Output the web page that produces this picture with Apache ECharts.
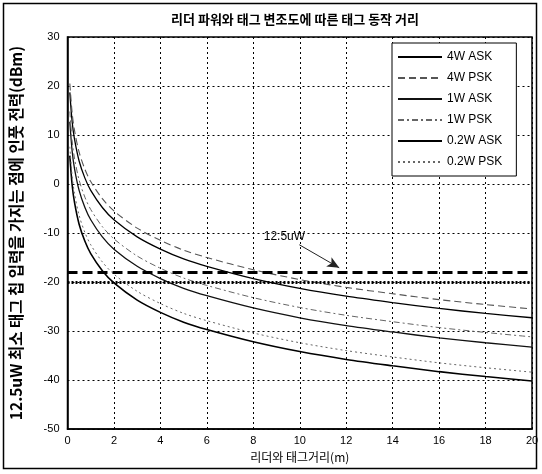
<!DOCTYPE html>
<html><head><meta charset="utf-8">
<script src="https://cdn.jsdelivr.net/npm/echarts@6/dist/echarts.min.js"></script>
<style>html,body{margin:0;padding:0;background:#fff}#c{width:542px;height:474px}</style>
</head><body><div id="c"></div>
<script>
var distances = [0.1, 0.2, 0.3, 0.5, 0.75, 1, 1.5, 2, 3, 4, 5, 6, 8, 10, 12, 14, 16, 18, 20];
var w4Ask  = [18.7, 12.7, 9.2, 4.7, 1.2, -1.3, -4.8, -7.3, -10.8, -13.3, -15.3, -16.8, -19.3, -21.3, -22.9, -24.2, -25.4, -26.4, -27.3];
var w4Psk  = [20.5, 14.5, 11.0, 6.5, 3.0, 0.5, -3.0, -5.5, -9.0, -11.5, -13.5, -15.0, -17.5, -19.5, -21.1, -22.4, -23.6, -24.6, -25.5];
var w1Ask  = [12.7, 6.7, 3.2, -1.3, -4.8, -7.3, -10.8, -13.3, -16.8, -19.3, -21.3, -22.8, -25.3, -27.3, -28.9, -30.2, -31.4, -32.4, -33.3];
var w1Psk  = [14.8, 8.8, 5.3, 0.8, -2.7, -5.2, -8.7, -11.2, -14.7, -17.2, -19.2, -20.7, -23.2, -25.2, -26.8, -28.1, -29.3, -30.3, -31.2];
var w02Ask = [5.8, -0.2, -3.7, -8.2, -11.7, -14.2, -17.7, -20.2, -23.7, -26.2, -28.2, -29.7, -32.2, -34.2, -35.8, -37.1, -38.3, -39.3, -40.2];
var w02Psk = [7.6, 1.6, -1.9, -6.4, -9.9, -12.4, -15.9, -18.4, -21.9, -24.4, -26.4, -27.9, -30.4, -32.4, -34.0, -35.3, -36.5, -37.5, -38.4];
var seriesNames = ['4W ASK', '4W PSK', '1W ASK', '1W PSK', '0.2W ASK', '0.2W PSK'];
var thresholdDashed = -18;
var thresholdDotted = -20;
var arrowFrom = [9.98, -12.4];
var arrowTo = [11.7, -17.1];
var arrowLabelPos = [9.34, -10.8];
var arrowLabel = '12.5uW';

function pairs(ys){ return distances.map(function(d,i){ return [d, ys[i]]; }); }
var styles = [
  {color:'#000', width:1.3, type:'solid'},
  {color:'#555', width:1.1, type:[7,4]},
  {color:'#111', width:1.3, type:'solid'},
  {color:'#666', width:1.0, type:[6,3,2,3]},
  {color:'#000', width:1.6, type:'solid'},
  {color:'#666', width:1.0, type:[2,3]}
];
var allData = [w4Ask, w4Psk, w1Ask, w1Psk, w02Ask, w02Psk];
var series = allData.map(function(arr,i){
  return {
    name: seriesNames[i], type:'line', data: pairs(arr), smooth:0.3, symbol:'none',
    lineStyle: styles[i], itemStyle:{color:styles[i].color}, z: 3
  };
});
series.push({
  type:'line', data:[], silent:true, symbol:'none',
  markPoint:{
    silent:true, symbol:'circle', symbolSize:1, itemStyle:{color:'rgba(0,0,0,0)'},
    data:[{coord:arrowLabelPos, label:{show:true, position:'inside', formatter:arrowLabel, color:'#000', fontSize:12, fontFamily:'Liberation Sans'}}]
  },
  markLine:{
    silent:true, symbol:['none','none'],
    label:{show:false},
    data:[
      [{coord:[0,thresholdDashed], lineStyle:{type:[10,5], width:3, color:'#000'}},{coord:[20,thresholdDashed]}],
      [{coord:[0,thresholdDotted], lineStyle:{type:[2,2], width:3, color:'#000'}},{coord:[20,thresholdDotted]}],
      [{coord:arrowFrom, lineStyle:{type:'solid', width:1, color:'#222'}, symbol:'none'},
       {coord:arrowTo, symbol:'arrow', symbolSize:[8,12]}]
    ]
  }
});

var chart = echarts.init(document.getElementById('c'));
chart.setOption({
  animation:false,
  backgroundColor:'#fff',
  title:{text:'리더 파워와 태그 변조도에 따른 태그 동작 거리', left:290, textAlign:'center', top:8,
    textStyle:{fontSize:13, fontWeight:'bold', fontFamily:'Noto Sans CJK KR', color:'#000'}},
  graphic:[{type:'rect', shape:{x:3.5,y:3.5,width:533,height:465}, style:{fill:'none', stroke:'#000', lineWidth:1.5}, silent:true}],
  grid:{left:65, right:10, top:37, bottom:45, show:true, borderColor:'#000', borderWidth:1.5, backgroundColor:'transparent'},
  legend:{
    show:true,
    data: seriesNames, orient:'vertical', left:392, top:43, itemWidth:44, itemHeight:10, itemGap:9,
    itemStyle:{opacity:0},
    backgroundColor:'#fff', borderColor:'#000', borderWidth:1, padding:[8,14,8,5],
    textStyle:{fontSize:12, fontFamily:'Liberation Sans', color:'#000'}
  },
  xAxis:{type:'value', min:0, max:20, interval:2,
    name:'리더와 태그거리(m)', nameLocation:'middle', nameGap:22,
    nameTextStyle:{fontSize:12, fontFamily:'Noto Sans CJK KR', color:'#000'},
    axisLine:{show:true, onZero:false, lineStyle:{color:'#000', width:1.5}}, axisTick:{show:false},
    axisLabel:{fontSize:11, fontFamily:'Liberation Sans', color:'#000', margin:6},
    splitLine:{show:true, lineStyle:{type:[2,3], color:'#000', width:1}}},
  yAxis:{type:'value', min:-50, max:30, interval:10,
    name:'12.5uW 최소 태그 칩 입력을 가지는 점에 인풋 전력(dBm)', nameLocation:'middle', nameGap:44,
    nameTextStyle:{fontSize:15.5, fontWeight:'bold', fontFamily:'Noto Sans CJK KR', color:'#000'},
    axisLine:{show:true, onZero:false, lineStyle:{color:'#000', width:1.5}}, axisTick:{show:false},
    axisLabel:{fontSize:11, fontFamily:'Liberation Sans', color:'#000', margin:8},
    splitLine:{show:true, lineStyle:{type:[2,3], color:'#000', width:1}}},
  series: series
});
</script></body></html>
